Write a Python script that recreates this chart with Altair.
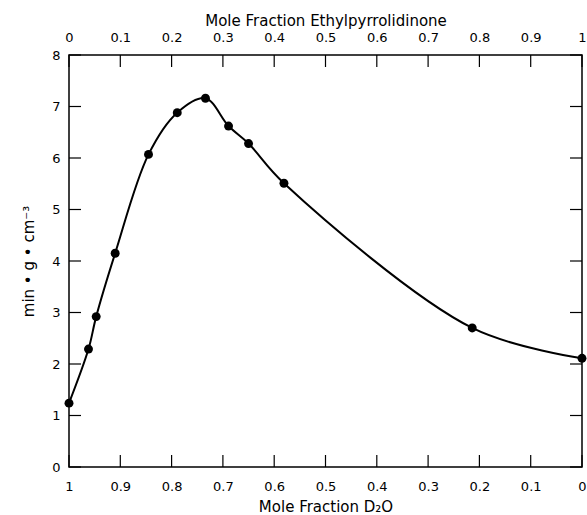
import altair as alt
import pandas as pd

# Data
ethyl_frac = [0.0, 0.038, 0.053, 0.090, 0.155, 0.211, 0.266, 0.311, 0.350, 0.419, 0.786, 1.0]
min_g_cm3 = [1.24, 2.29, 2.92, 4.15, 6.07, 6.88, 7.16, 6.62, 6.28, 5.51, 2.70, 2.11]
x_ticks = [0.0, 0.1, 0.2, 0.3, 0.4, 0.5, 0.6, 0.7, 0.8, 0.9, 1.0]
y_ticks = [0, 1, 2, 3, 4, 5, 6, 7, 8]

df = pd.DataFrame({"ethyl": ethyl_frac, "value": min_g_cm3})
xt = pd.DataFrame({"t": x_ticks})
yt = pd.DataFrame({"t": y_ticks})

W, H = 513, 412
TL = 12
FONT = "DejaVu Sans"

xs = alt.Scale(domain=[0, 1], nice=False, zero=False)
ys = alt.Scale(domain=[0, 8], nice=False)

common_axis = dict(ticks=False, domain=False, grid=False, labelFont=FONT, titleFont=FONT,
                   labelFontSize=13, titleFontSize=15, titleFontWeight="normal",
                   labelColor="black", titleColor="black", labelFlush=False, labelOverlap=False)

line = alt.Chart(df).mark_line(color="black", strokeWidth=2, interpolate="catmull-rom").encode(
    x=alt.X("ethyl:Q", scale=xs,
            axis=alt.Axis(orient="bottom", values=x_ticks,
                          labelExpr="format(1 - datum.value, '.1~f')",
                          title="Mole Fraction D₂O", labelPadding=13, titlePadding=6,
                          **common_axis)),
    y=alt.Y("value:Q", scale=ys,
            axis=alt.Axis(orient="left", values=y_ticks, title="min • g • cm⁻³",
                          labelPadding=9, titlePadding=15, **common_axis)),
)

points = alt.Chart(df).mark_circle(color="black", opacity=1, size=80).encode(
    x=alt.X("ethyl:Q", scale=xs,
            axis=alt.Axis(orient="top", values=x_ticks, format=".1~f",
                          title="Mole Fraction Ethylpyrrolidinone", labelPadding=11,
                          titlePadding=3, **common_axis)),
    y=alt.Y("value:Q", scale=ys,
            axis=alt.Axis(orient="right", values=y_ticks, labels=False, title=None,
                          **common_axis)),
)

tick_style = dict(color="black", strokeWidth=1.2)
bottom_ticks = alt.Chart(xt).mark_rule(**tick_style).encode(
    x=alt.X("t:Q", scale=xs, axis=None), y=alt.value(H), y2=alt.value(H - TL))
top_ticks = alt.Chart(xt).mark_rule(**tick_style).encode(
    x=alt.X("t:Q", scale=xs, axis=None), y=alt.value(0), y2=alt.value(TL))
left_ticks = alt.Chart(yt).mark_rule(**tick_style).encode(
    y=alt.Y("t:Q", scale=ys, axis=None), x=alt.value(0), x2=alt.value(TL))
right_ticks = alt.Chart(yt).mark_rule(**tick_style).encode(
    y=alt.Y("t:Q", scale=ys, axis=None), x=alt.value(W), x2=alt.value(W - TL))

chart = alt.layer(line, points, bottom_ticks, top_ticks, left_ticks, right_ticks).resolve_axis(
    x="independent", y="independent"
).properties(
    width=W, height=H,
    autosize=alt.AutoSizeParams(type="none"),
    padding={"left": 69, "top": 55, "right": 5, "bottom": 48},
).configure_view(stroke="black", strokeWidth=1.5)

chart.save("out.html", embed_options={"renderer": "svg", "actions": False})
